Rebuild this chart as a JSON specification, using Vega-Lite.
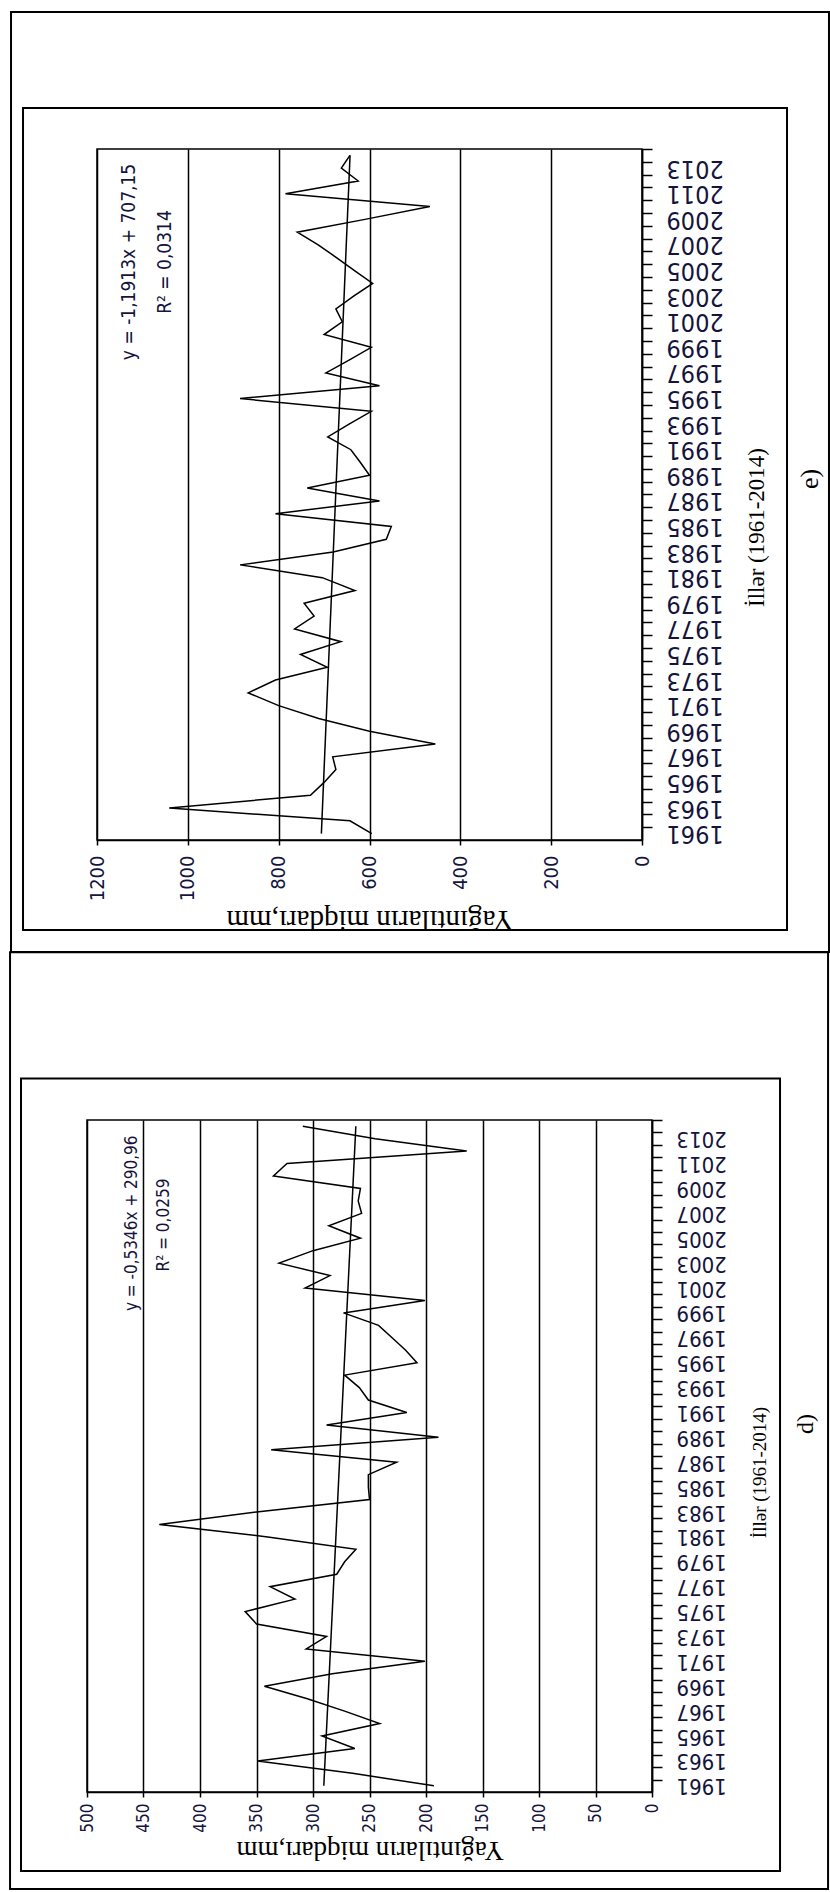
{
  "$schema": "https://vega.github.io/schema/vega-lite/v6.json",
  "background": "white",
  "padding": {"left": 8, "top": 10, "right": 0, "bottom": 0},
  "datasets": {
    "e": [
      {"year":1961,"value":595},{"year":1962,"value":643},{"year":1963,"value":1041},{"year":1964,"value":730},{"year":1965,"value":700},
      {"year":1966,"value":674},{"year":1967,"value":681},{"year":1968,"value":455},{"year":1969,"value":600},{"year":1970,"value":712},
      {"year":1971,"value":800},{"year":1972,"value":867},{"year":1973,"value":807},{"year":1974,"value":693},{"year":1975,"value":752},
      {"year":1976,"value":663},{"year":1977,"value":765},{"year":1978,"value":722},{"year":1979,"value":744},{"year":1980,"value":632},
      {"year":1981,"value":704},{"year":1982,"value":885},{"year":1983,"value":680},{"year":1984,"value":563},{"year":1985,"value":552},
      {"year":1986,"value":807},{"year":1987,"value":578},{"year":1988,"value":737},{"year":1989,"value":600},{"year":1990,"value":620},
      {"year":1991,"value":641},{"year":1992,"value":692},{"year":1993,"value":645},{"year":1994,"value":596},{"year":1995,"value":885},
      {"year":1996,"value":578},{"year":1997,"value":696},{"year":1998,"value":645},{"year":1999,"value":596},{"year":2000,"value":700},
      {"year":2001,"value":660},{"year":2002,"value":674},{"year":2003,"value":635},{"year":2004,"value":593},{"year":2005,"value":633},
      {"year":2006,"value":672},{"year":2007,"value":713},{"year":2008,"value":759},{"year":2009,"value":610},{"year":2010,"value":467},
      {"year":2011,"value":785},{"year":2012,"value":625},{"year":2013,"value":662},{"year":2014,"value":643}
    ],
    "eTrend": [{"year":1961,"value":705.96},{"year":2014,"value":642.82}],
    "d": [
      {"year":1961,"value":193},{"year":1962,"value":265},{"year":1963,"value":349},{"year":1964,"value":263},{"year":1965,"value":292},
      {"year":1966,"value":241},{"year":1967,"value":272},{"year":1968,"value":305},{"year":1969,"value":343},{"year":1970,"value":283},
      {"year":1971,"value":201},{"year":1972,"value":306},{"year":1973,"value":288},{"year":1974,"value":350},{"year":1975,"value":360},
      {"year":1976,"value":316},{"year":1977,"value":338},{"year":1978,"value":279},{"year":1979,"value":272},{"year":1980,"value":262},
      {"year":1981,"value":340},{"year":1982,"value":436},{"year":1983,"value":350},{"year":1984,"value":250},{"year":1985,"value":251},
      {"year":1986,"value":251},{"year":1987,"value":226},{"year":1988,"value":337},{"year":1989,"value":189},{"year":1990,"value":288},
      {"year":1991,"value":217},{"year":1992,"value":251},{"year":1993,"value":259},{"year":1994,"value":272},{"year":1995,"value":208},
      {"year":1996,"value":218},{"year":1997,"value":230},{"year":1998,"value":242},{"year":1999,"value":273},{"year":2000,"value":201},
      {"year":2001,"value":307},{"year":2002,"value":285},{"year":2003,"value":330},{"year":2004,"value":300},{"year":2005,"value":258},
      {"year":2006,"value":286},{"year":2007,"value":257},{"year":2008,"value":260},{"year":2009,"value":258},{"year":2010,"value":335},
      {"year":2011,"value":323},{"year":2012,"value":164},{"year":2013,"value":245},{"year":2014,"value":309}
    ],
    "dTrend": [{"year":1961,"value":290.43},{"year":2014,"value":262.09}]
  },
  "vconcat": [
    {
      "width": 545,
      "height": 691,
      "data": {"name": "e"},
      "encoding": {
        "x": {"field": "value", "type": "quantitative",
          "scale": {"domain": [0, 1200], "reverse": true, "nice": false, "zero": false},
          "axis": {"orient": "bottom", "values": [0,200,400,600,800,1000,1200], "format": "d", "grid": true,
            "labelAngle": 270, "labelAlign": "right", "labelBaseline": "middle", "labelPadding": 10,
            "labelFontSize": 20, "tickSize": 5,
            "title": "Yağıntıların miqdarı,mm", "titleFontSize": 29, "titleAngle": 180, "titleBaseline": "bottom", "titlePadding": 4}},
        "y": {"field": "year", "type": "quantitative",
          "scale": {"domain": [1960.5, 2014.5], "nice": false, "zero": false},
          "axis": {"orient": "right", "values": [1961,1962,1963,1964,1965,1966,1967,1968,1969,1970,1971,1972,1973,1974,1975,1976,1977,1978,1979,1980,1981,1982,1983,1984,1985,1986,1987,1988,1989,1990,1991,1992,1993,1994,1995,1996,1997,1998,1999,2000,2001,2002,2003,2004,2005,2006,2007,2008,2009,2010,2011,2012,2013,2014],
            "format": "d", "labelExpr": "datum.value % 2 == 1 ? datum.label : ''",
            "grid": false, "tickSize": 10, "tickOffset": -6.4, "labelOffset": 6.4,
            "labelAngle": 180, "labelAlign": "right", "labelBaseline": "middle", "labelPadding": 14, "labelFontSize": 25,
            "title": "İllər (1961-2014)", "titleFontSize": 23, "titleAngle": 270, "titleBaseline": "top", "titleAlign": "center", "titlePadding": 22, "titleY": 378}}
      },
      "layer": [
        {"transform": [{"filter": "datum.year == 1961"}],
         "mark": {"type": "rect", "filled": false, "stroke": "black", "strokeWidth": 2},
         "encoding": {"x": {"datum": 1389.3, "type": "quantitative"}, "x2": {"datum": -411.7}, "y": {"datum": 2025.21, "type": "quantitative"}, "y2": {"datum": 1951.75}}},
        {"transform": [{"filter": "datum.year == 1961"}],
         "mark": {"type": "rect", "filled": false, "stroke": "black", "strokeWidth": 2},
         "encoding": {"x": {"datum": 1362.9, "type": "quantitative"}, "x2": {"datum": -319.3}, "y": {"datum": 2017.7, "type": "quantitative"}, "y2": {"datum": 1953.47}}},
        {"data": {"name": "eTrend"},
         "mark": {"type": "line", "color": "black", "strokeWidth": 1.5},
         "encoding": {"order": {"field": "year", "type": "quantitative"}}},
        {"mark": {"type": "line", "color": "black", "strokeWidth": 1.5},
         "encoding": {"order": {"field": "year", "type": "quantitative"}}},
        {"transform": [{"filter": "datum.year == 1961"}],
         "mark": {"type": "text", "text": "y = -1,1913x + 707,15", "angle": 270, "align": "center", "baseline": "middle", "font": "Liberation Sans Narrow, DejaVu Sans Condensed, sans-serif", "fontSize": 19, "color": "#14143c"},
         "encoding": {"x": {"datum": 1129.5, "type": "quantitative"}, "y": {"datum": 2005.67, "type": "quantitative"}}},
        {"transform": [{"filter": "datum.year == 1961"}],
         "mark": {"type": "text", "text": "R² = 0,0314", "angle": 270, "align": "center", "baseline": "middle", "font": "Liberation Sans Narrow, DejaVu Sans Condensed, sans-serif", "fontSize": 19, "color": "#14143c"},
         "encoding": {"x": {"datum": 1050, "type": "quantitative"}, "y": {"datum": 2005.67, "type": "quantitative"}}},
        {"transform": [{"filter": "datum.year == 1961"}],
         "mark": {"type": "text", "text": "e)", "angle": 270, "align": "center", "baseline": "middle", "font": "Liberation Serif", "fontSize": 26, "color": "black"},
         "encoding": {"x": {"datum": -369.9, "type": "quantitative"}, "y": {"datum": 1988.71, "type": "quantitative"}}}
      ]
    },
    {
      "width": 565,
      "height": 672,
      "data": {"name": "d"},
      "encoding": {
        "x": {"field": "value", "type": "quantitative",
          "scale": {"domain": [0, 500], "reverse": true, "nice": false, "zero": false},
          "axis": {"orient": "bottom", "values": [0,50,100,150,200,250,300,350,400,450,500], "format": "d", "grid": true,
            "labelAngle": 270, "labelAlign": "right", "labelBaseline": "middle", "labelPadding": 6,
            "labelFontSize": 17, "tickSize": 5,
            "title": "Yağıntıların miqdarı,mm", "titleFontSize": 27, "titleAngle": 180, "titleBaseline": "bottom", "titlePadding": 3}},
        "y": {"field": "year", "type": "quantitative",
          "scale": {"domain": [1960.5, 2014.5], "nice": false, "zero": false},
          "axis": {"orient": "right", "values": [1961,1962,1963,1964,1965,1966,1967,1968,1969,1970,1971,1972,1973,1974,1975,1976,1977,1978,1979,1980,1981,1982,1983,1984,1985,1986,1987,1988,1989,1990,1991,1992,1993,1994,1995,1996,1997,1998,1999,2000,2001,2002,2003,2004,2005,2006,2007,2008,2009,2010,2011,2012,2013,2014],
            "format": "d", "labelExpr": "datum.value % 2 == 1 ? datum.label : ''",
            "grid": false, "tickSize": 10, "tickOffset": -6.22, "labelOffset": 6.22,
            "labelAngle": 180, "labelAlign": "right", "labelBaseline": "middle", "labelPadding": 14, "labelFontSize": 22,
            "title": "İllər (1961-2014)", "titleFontSize": 19, "titleAngle": 270, "titleBaseline": "top", "titleAlign": "center", "titlePadding": 24, "titleY": 352}}
      },
      "layer": [
        {"transform": [{"filter": "datum.year == 1961"}],
         "mark": {"type": "rect", "filled": false, "stroke": "black", "strokeWidth": 2},
         "encoding": {"x": {"datum": 568.1, "type": "quantitative"}, "x2": {"datum": -155.8}, "y": {"datum": 2027.98, "type": "quantitative"}, "y2": {"datum": 1952.7}}},
        {"transform": [{"filter": "datum.year == 1961"}],
         "mark": {"type": "rect", "filled": false, "stroke": "black", "strokeWidth": 2},
         "encoding": {"x": {"datum": 558.4, "type": "quantitative"}, "x2": {"datum": -113.3}, "y": {"datum": 2017.83, "type": "quantitative"}, "y2": {"datum": 1954.15}}},
        {"data": {"name": "dTrend"},
         "mark": {"type": "line", "color": "black", "strokeWidth": 1.5},
         "encoding": {"order": {"field": "year", "type": "quantitative"}}},
        {"mark": {"type": "line", "color": "black", "strokeWidth": 1.5},
         "encoding": {"order": {"field": "year", "type": "quantitative"}}},
        {"transform": [{"filter": "datum.year == 1961"}],
         "mark": {"type": "text", "text": "y = -0,5346x + 290,96", "angle": 270, "align": "center", "baseline": "middle", "font": "Liberation Sans Narrow, DejaVu Sans Condensed, sans-serif", "fontSize": 17, "color": "#14143c"},
         "encoding": {"x": {"datum": 460.2, "type": "quantitative"}, "y": {"datum": 2006.2, "type": "quantitative"}}},
        {"transform": [{"filter": "datum.year == 1961"}],
         "mark": {"type": "text", "text": "R² = 0,0259", "angle": 270, "align": "center", "baseline": "middle", "font": "Liberation Sans Narrow, DejaVu Sans Condensed, sans-serif", "fontSize": 17, "color": "#14143c"},
         "encoding": {"x": {"datum": 431.9, "type": "quantitative"}, "y": {"datum": 2006.06, "type": "quantitative"}}},
        {"transform": [{"filter": "datum.year == 1961"}],
         "mark": {"type": "text", "text": "d)", "angle": 270, "align": "center", "baseline": "middle", "font": "Liberation Serif", "fontSize": 24, "color": "black"},
         "encoding": {"x": {"datum": -136.3, "type": "quantitative"}, "y": {"datum": 1990.07, "type": "quantitative"}}}
      ]
    }
  ],
  "spacing": 280,
  "bounds": "flush",
  "center": true,
  "config": {
    "view": {"stroke": "black", "strokeWidth": 1.5},
    "axis": {
      "domainColor": "black", "domainWidth": 1.5,
      "tickColor": "black", "tickWidth": 1.5,
      "gridColor": "black", "gridWidth": 1.5, "gridOpacity": 1,
      "labelColor": "#14143c", "labelFont": "Liberation Sans Narrow, DejaVu Sans Condensed, sans-serif",
      "labelOverlap": false, "labelBound": false, "labelFlush": false,
      "titleColor": "black", "titleFont": "Liberation Serif", "titleFontWeight": "normal"
    }
  }
}
